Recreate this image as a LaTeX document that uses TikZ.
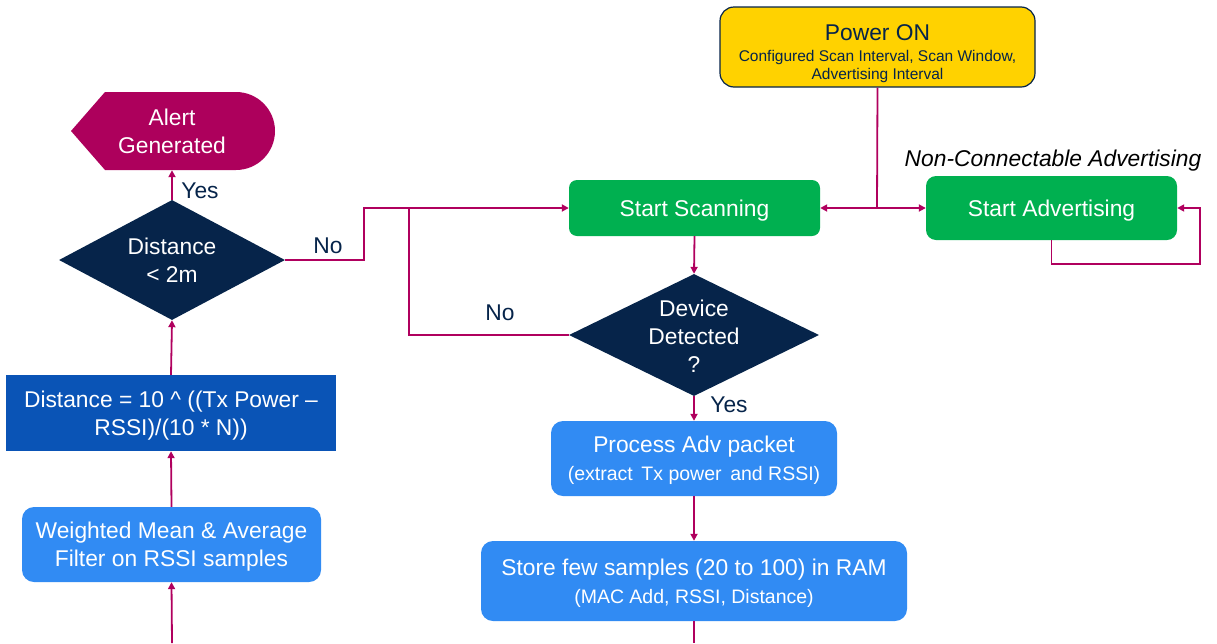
\documentclass[tikz,border=0pt]{standalone}
\usepackage{fontspec}
\setmainfont{Liberation Sans}
\usetikzlibrary{arrows.meta,shapes.geometric}
\definecolor{navy}{HTML}{06244A}
\definecolor{lnk}{HTML}{B0005E}
\definecolor{gold}{HTML}{FFD200}
\definecolor{grn}{HTML}{00B050}
\definecolor{dblue}{HTML}{0A54B6}
\definecolor{lblue}{HTML}{318BF3}
\definecolor{alertc}{HTML}{AD005C}
\newcommand{\fbigsz}{\fontsize{22.8}{28}\selectfont}
\newcommand{\fmidsz}{\fontsize{19.5}{24}\selectfont}
\begin{document}
\begin{tikzpicture}[x=1pt,y=-1pt,
  box/.style={rectangle,inner sep=0pt,text=white,align=center,font=\fbigsz,text depth=0pt},
  dia/.style={diamond,fill=navy,inner sep=0pt},
  dtext/.style={text=white,align=center,font=\fbigsz,inner sep=0pt},
  lbl/.style={text=navy,font=\fbigsz,inner sep=0pt},
  link/.style={draw=lnk,line width=1.8pt},
  arr/.style={link,-{Triangle[length=7pt,width=7pt]}}]
\useasboundingbox (0,0) rectangle (1217,643);

% Power ON
\node[box,rounded corners=14pt,fill=gold,draw=navy,line width=1.2pt,
  minimum width=315pt,minimum height=80pt] (power) at (877.5,47) {};
\node[box,text=navy,font=\fontsize{15.5}{18}\selectfont] (powert) at (877.5,52)
  {\fontsize{22.8}{23}\selectfont Power ON\\[3pt]
   Configured Scan Interval, Scan Window,\\Advertising Interval};

% green boxes
\node[box,rounded corners=8pt,fill=grn,minimum width=251pt,minimum height=56pt] (ss) at (694.5,208) {Start Scanning};
\node[box,rounded corners=10pt,fill=grn,minimum width=251pt,minimum height=64pt] (sa) at (1051.5,208) {Start Advertising};
\node[text=black,font=\fontsize{22.8}{28}\selectfont\itshape,inner sep=0pt] (nca) at (1053,161) {Non-Connectable Advertising};

% Device detected
\node[dia,minimum width=250pt,minimum height=122pt] (dd) at (694,335) {};
\node[dtext] (ddt) at (694,336) {Device\\Detected\\?};

% Process / Store
\node[box,rounded corners=12pt,fill=lblue,minimum width=286pt,minimum height=75pt] (pa) at (694,458.5)
  {Process Adv packet\\{\fmidsz(extract\, Tx power\, and RSSI)}};
\node[box,rounded corners=12pt,fill=lblue,minimum width=426pt,minimum height=80pt] (st) at (694,581)
  {Store few samples (20 to 100) in RAM\\{\fmidsz(MAC Add, RSSI, Distance)}};

% Left column
\fill[alertc] (71,131) -- (105,92) -- (236,92) arc[start angle=90,end angle=-90,radius=39pt] -- (105,170) -- cycle;
\node[box,minimum width=150pt,minimum height=78pt] (alert) at (172,131) {Alert\\Generated};
\node[dia,minimum width=226pt,minimum height=120pt] (dist) at (172,260) {};
\node[dtext] (distt) at (172,260) {Distance\\\textless{} 2m};
\node[box,fill=dblue,minimum width=330pt,minimum height=76pt] (form) at (171,413)
  {Distance = 10 \^{} ((Tx Power –\\RSSI)/(10 * N))};
\node[box,rounded corners=12pt,fill=lblue,minimum width=299pt,minimum height=75pt] (wm) at (171.5,544.5)
  {Weighted Mean \& Average\\Filter on RSSI samples};

% connectors
\coordinate (pj) at (877,208);
\draw[link] (power.south) -- (pj);
\draw[arr] (pj) -- (ss.east);
\draw[arr] (pj) -- (sa.west);
\coordinate (loopc) at (1200,264);
\draw[arr] (sa.south) |- (loopc) |- (sa.east);
\draw[arr] (ss.south) -- (dd.north);
\coordinate (nojoin) at (409,208);
\draw[link] (dd.west) -| (nojoin);
\coordinate (nobend) at (364,208);
\draw[arr] (dist.east) -| (nobend) -- (ss.west);
\draw[arr] (dd.south) -- (pa.north);
\draw[arr] (pa.south) -- (st.north);
\coordinate (outS) at (694,643);
\draw[link] (st.south) -- (outS);
\draw[arr] (dist.north) -- (alert.south);
\draw[arr] (form.north) -- (dist.south);
\draw[arr] (wm.north) -- (form.south);
\coordinate (inW) at (172,643);
\draw[arr] (inW) -- (wm.south);

% labels
\node[lbl] (y1) at (200,191) {Yes};
\node[lbl] (y2) at (729,405) {Yes};
\node[lbl] (n1) at (328,246) {No};
\node[lbl] (n2) at (500,313) {No};
\end{tikzpicture}
\end{document}
